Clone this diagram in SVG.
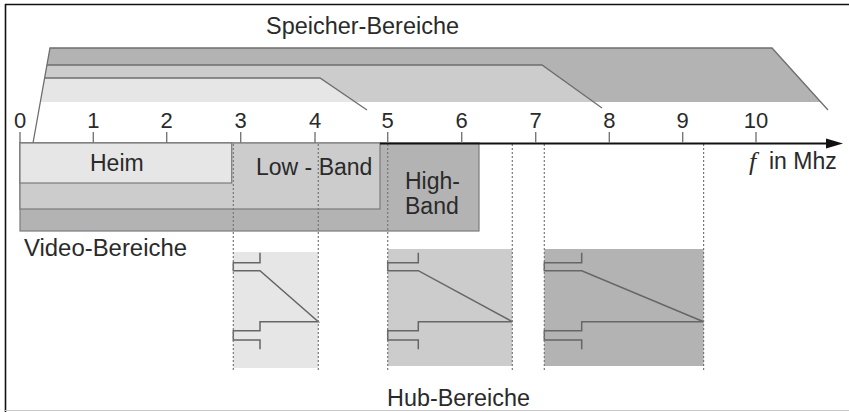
<svg xmlns="http://www.w3.org/2000/svg" width="849" height="412" viewBox="0 0 849 412">
<style>
.t{font-family:"Liberation Sans",Arial,sans-serif;font-size:23px;fill:#2a2a2a}
.d{font-family:"Liberation Sans",Arial,sans-serif;font-size:22px;fill:#2a2a2a;text-anchor:middle}
.ln{fill:none;stroke:#6e6e6e;stroke-width:1.3}
.bx{stroke:#7a7a7a;stroke-width:1.2}
.dot{stroke:#777;stroke-width:1.2;stroke-dasharray:2 2;fill:none}
.br{fill:none;stroke:#666;stroke-width:1.5}
.f1{fill:#e6e6e6}.f2{fill:#cccccc}.f3{fill:#b3b3b3}
</style>
<rect x="0" y="0" width="849" height="412" fill="#fff"/>
<line x1="5.5" y1="4" x2="5.5" y2="412" stroke="#111" stroke-width="1.6"/>
<line x1="5" y1="4.5" x2="849" y2="4.5" stroke="#111" stroke-width="1.6"/>
<line x1="5" y1="410.5" x2="849" y2="410.5" stroke="#c8c8c8" stroke-width="1.2"/>

<g id="speicher">
<polygon class="f3" points="50,48 772,48 820.8,102 40.3,102"/>
<polygon class="f2" points="47,65 542,65 593.6,102 40.3,102"/>
<polygon class="f1" points="44.6,78 320,78 355,102 40.3,102"/>
<polyline class="ln" points="33,143 50,48 772,48 828,110"/>
<polyline class="ln" points="47,65 542,65 602,108"/>
<polyline class="ln" points="44.6,78 320,78 367,110"/>
<text class="t" x="266" y="34" textLength="193" lengthAdjust="spacingAndGlyphs">Speicher-Bereiche</text>
</g>

<g id="video">
<rect class="f3 bx" x="20" y="143" width="459" height="88"/>
<rect class="f2 bx" x="20" y="143" width="360" height="66"/>
<rect class="f1 bx" x="20" y="143" width="211.7" height="40"/>
<text class="t" x="90" y="171">Heim</text>
<text class="t" x="256" y="175">Low - Band</text>
<text class="t" x="405" y="189">High-</text>
<text class="t" x="405" y="214">Band</text>
<text class="t" x="24" y="256" textLength="163" lengthAdjust="spacingAndGlyphs">Video-Bereiche</text>
</g>

<g id="hub">
<rect class="f1" x="233.3" y="252" width="85" height="116"/>
<rect class="f2" x="387.7" y="249" width="124.6" height="117"/>
<rect class="f3" x="544.3" y="249" width="159.3" height="117"/>
<path class="br" d="M260,252.7 V262.7 H233.3 V270.7 H260 L318.3,321.7 H260 V330.7 H233.3 V340 H260 V349.3"/>
<path class="br" d="M418.3,252.7 V262.7 H387.7 V270.7 H418.3 L512.3,321.7 H418.3 V330.7 H387.7 V340 H418.3 V349.3"/>
<path class="br" d="M581.7,252.7 V262.7 H544.3 V270.7 H581.7 L703.6,321.7 H581.7 V330.7 H544.3 V340 H581.7 V349.3"/>
<text class="t" x="387" y="406" textLength="143" lengthAdjust="spacingAndGlyphs">Hub-Bereiche</text>
</g>

<g id="connectors">
<line class="dot" x1="233.3" y1="144" x2="233.3" y2="370"/>
<line class="dot" x1="318.3" y1="144" x2="318.3" y2="370"/>
<line class="dot" x1="387.7" y1="144" x2="387.7" y2="370"/>
<line class="dot" x1="512.3" y1="144" x2="512.3" y2="370"/>
<line class="dot" x1="544.3" y1="144" x2="544.3" y2="370"/>
<line class="dot" x1="703.6" y1="144" x2="703.6" y2="370"/>
</g>

<g id="axis">
<line x1="380" y1="143.5" x2="828" y2="143.5" stroke="#111" stroke-width="2"/>
<polygon points="826,138.5 843,143.5 826,148.5" fill="#111"/>
<g stroke="#777" stroke-width="1.4">
<line x1="20" y1="132" x2="20" y2="143"/>
<line x1="93.3" y1="132" x2="93.3" y2="143"/>
<line x1="166.7" y1="132" x2="166.7" y2="143"/>
<line x1="240.7" y1="132" x2="240.7" y2="143"/>
<line x1="315" y1="132" x2="315" y2="143"/>
<line x1="387.7" y1="132" x2="387.7" y2="143"/>
<line x1="461.7" y1="132" x2="461.7" y2="143"/>
<line x1="535.7" y1="132" x2="535.7" y2="143"/>
<line x1="609.3" y1="132" x2="609.3" y2="143"/>
<line x1="682.7" y1="132" x2="682.7" y2="143"/>
<line x1="756" y1="132" x2="756" y2="143"/>
</g>
<text class="d" x="20" y="128">0</text>
<text class="d" x="93.3" y="128">1</text>
<text class="d" x="166.7" y="128">2</text>
<text class="d" x="240.7" y="128">3</text>
<text class="d" x="315" y="128">4</text>
<text class="d" x="387.7" y="128">5</text>
<text class="d" x="461.7" y="128">6</text>
<text class="d" x="535.7" y="128">7</text>
<text class="d" x="609.3" y="128">8</text>
<text class="d" x="682.7" y="128">9</text>
<text class="d" x="756" y="128">10</text>
<text x="749" y="170" font-family="'Liberation Serif',serif" font-style="italic" font-size="26" fill="#2a2a2a">f</text>
<text class="t" x="769" y="169">in Mhz</text>
</g>
</svg>
